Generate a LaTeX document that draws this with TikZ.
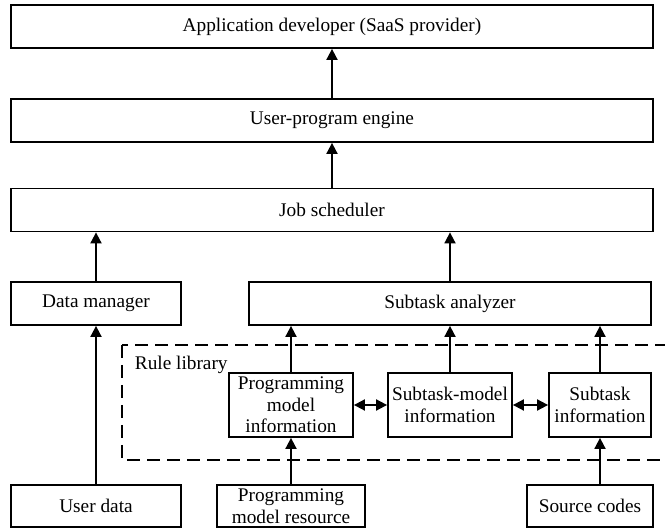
\documentclass[tikz,border=0pt]{standalone}
\usepackage{fontspec}
\setmainfont{Liberation Serif}
\usetikzlibrary{arrows.meta,positioning}

\begin{document}
\begin{tikzpicture}[x=1pt,y=1pt,line width=1.8pt,on grid,
    txt/.style={font=\fontsize{19.3}{21.7}\selectfont},
    block/.style={draw,rectangle,txt,inner sep=0pt,minimum height=43pt,align=center},
    wide/.style={block,minimum width=642pt},
    info/.style={block,minimum height=64pt},
    >={Triangle[length=11pt,width=11pt]}]
  \useasboundingbox (0,0) rectangle (665,531);
  % upper chain
  \node[wide] (job) at (332,321) {Job scheduler};
  \node[wide] (upe) [above=89.5pt of job] {User-program engine};
  \node[wide] (app) [above=94pt of upe] {Application developer (SaaS provider)};
  \node[block,minimum width=170pt] (dm) at (96,227.5) {Data manager};
  \node[block,minimum width=402pt] (sa) at (450,227.5) {Subtask analyzer};
  % rule library
  \draw[dash pattern=on 13pt off 7pt] (122,186) rectangle (690,71);
  \node[txt,anchor=west,inner sep=1pt] (rl) at (133,166) {Rule library};
  \node[info,minimum width=124pt] (pmi) at (291,126) {Programming\\model\\information};
  \node[info,minimum width=124pt] (smi) [right=159pt of pmi] {Subtask-model\\information};
  \node[info,minimum width=102pt] (si) [right=150pt of smi] {Subtask\\information};
  % inputs
  \node[block,minimum width=170pt,minimum height=42pt] (ud) at (96,25) {User data};
  \node[block,minimum width=148pt,minimum height=42pt] (pmr) at (291,25) {Programming\\model resource};
  \node[block,minimum width=126pt,minimum height=42pt] (sc) at (590,25) {Source codes};
  \path[->]
    (upe) edge (app)
    (job) edge (upe)
    (dm) edge (dm |- job.south)
    (sa) edge (sa |- job.south)
    (pmi) edge (pmi |- sa.south)
    (smi) edge (smi |- sa.south)
    (si) edge (si |- sa.south)
    (ud) edge (dm)
    (pmr) edge (pmi)
    (sc.north -| si) edge (si);
  \path[<->]
    (pmi) edge (smi)
    (smi) edge (si);
\end{tikzpicture}
\end{document}
